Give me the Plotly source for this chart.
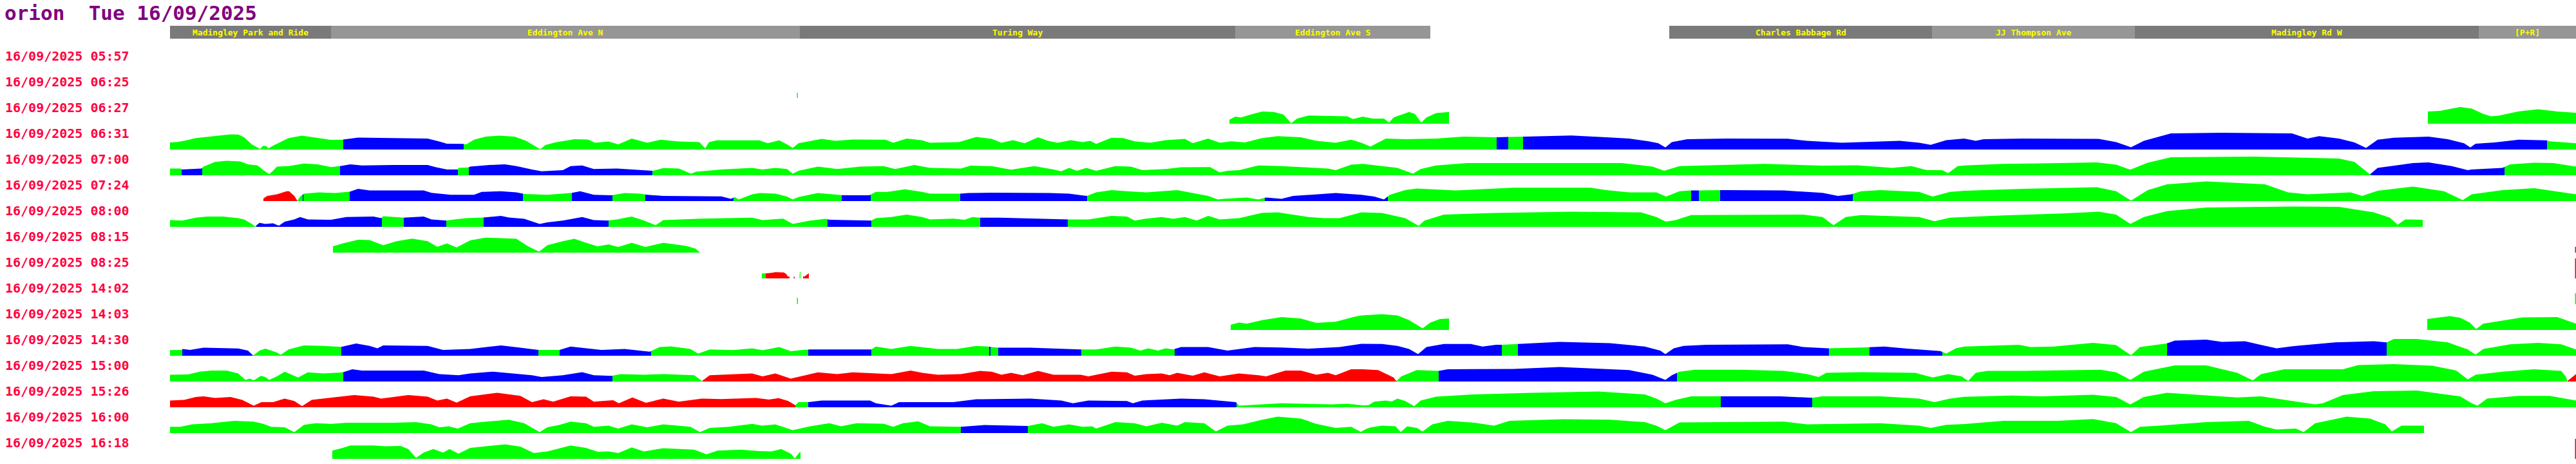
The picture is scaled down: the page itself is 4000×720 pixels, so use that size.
import numpy as np
import plotly.graph_objects as go

# ---------------- data ----------------
TITLE = "orion  Tue 16/09/2025"
DATE = "16/09/2025"
TIMES = ["05:57", "06:25", "06:27", "06:31", "07:00", "07:24", "08:00", "08:15",
         "08:25", "14:02", "14:03", "14:30", "15:00", "15:26", "16:00", "16:18"]

ROUTE_END = 3736  # distance along route (same units as profiles)
SECTION_NAMES = ["Madingley Park and Ride", "Eddington Ave N", "Turing Way", "Eddington Ave S",
                 "Charles Babbage Rd", "JJ Thompson Ave", "Madingley Rd W", "[P+R]"]
SECTION_START = [0, 250, 978, 1654, 2328, 2736, 3051, 3585]
SECTION_END = [250, 978, 1654, 1957, 2736, 3051, 3585, 3736]

# speed profiles: (distance, speed) per journey
P_0625 = [(973, 8), (975, 8)]
S_0625 = [(973.5, 975, 'g')]

P_0627 = [(1645, 6.2), (1654, 11), (1663, 9.8), (1678, 14.2), (1696, 18.9), (1714, 18.2), (1729, 14.2),
          (1741, 0.7), (1750, 8), (1768, 12.7), (1798, 12.4), (1828, 11.6), (1837, 7.3), (1852, 11),
          (1867, 8), (1885, 8), (1893, 1.8), (1900, 9.8), (1924, 18.2), (1933, 15.3), (1943, 1.8),
          (1951, 9.8), (1966, 16.4), (1986, 18.2),
          (3506, 18.9), (3525, 20), (3556, 26), (3574, 23.6), (3592, 15.3), (3604, 11.6), (3616, 12.4),
          (3646, 18.9), (3677, 22.5), (3707, 18.9), (3736, 17)]
S_0627 = [(1645, 1986, 'g'), (3506, 3736, 'g')]

P_0631 = [(0, 10.9), (10, 11.6), (22, 13.5), (40, 17.8), (64, 20.7), (94, 23.6), (106, 23.3), (115, 19),
          (127, 8), (136, 2.5), (140, 0.7), (144, 5.5), (149, 5.5), (153, 1.8), (160, 6), (184, 17.8),
          (205, 21.5), (226, 18.5), (250, 15), (268, 15.3), (292, 18.5), (346, 17.8), (400, 17),
          (418, 12.4), (430, 9), (455, 8.7), (460, 8), (472, 15.3), (490, 20), (511, 21.5), (535, 20),
          (553, 13.5), (565, 6.2), (575, 0.4), (583, 7), (598, 11), (628, 16), (649, 15.6), (660, 10.5),
          (681, 12.4), (696, 8), (717, 17), (741, 10.5), (762, 15.3), (789, 12.4), (822, 11.6),
          (831, 1.8), (837, 11.6), (849, 14.2), (885, 14.5), (915, 14.2), (928, 9.8), (946, 14.2),
          (958, 8), (967, 2.5), (976, 9.8), (1012, 16.4), (1033, 13.5), (1060, 15.6), (1111, 15.3),
          (1123, 10.5), (1144, 17), (1168, 14.2), (1180, 10.5), (1225, 11.6), (1252, 19.6), (1276, 16.4),
          (1291, 10.5), (1309, 14.5), (1327, 9.8), (1348, 19), (1363, 13.5), (1378, 10.5), (1399, 14.5),
          (1417, 11.6), (1429, 13.5), (1438, 8.7), (1462, 18.2), (1480, 17.8), (1498, 12.7),
          (1522, 10.5), (1546, 14.5), (1576, 16.4), (1588, 9.8), (1612, 17), (1630, 10.5), (1648, 12.7),
          (1669, 11), (1696, 17.8), (1720, 20.7), (1756, 19), (1780, 13.5), (1810, 10.5), (1834, 15.3),
          (1850, 10.5), (1864, 4.4), (1888, 17), (1918, 16), (1966, 17), (2008, 20), (2059, 19),
          (2080, 19.6), (2104, 20), (2176, 21.8), (2230, 19), (2266, 17), (2296, 12.7), (2311, 9.8),
          (2322, 3.3), (2332, 11.6), (2356, 16), (2416, 17), (2512, 16.7), (2542, 13.5), (2596, 10.5),
          (2656, 12.7), (2686, 13.5), (2716, 10.5), (2734, 7.3), (2758, 14.5), (2786, 17), (2804, 13.5),
          (2816, 16), (2877, 17), (2995, 16.4), (3022, 11.6), (3045, 3.6), (3065, 13.5), (3107, 25),
          (3186, 26), (3295, 25), (3319, 17), (3337, 20.7), (3368, 17), (3392, 11), (3410, 2.5),
          (3428, 15.3), (3453, 18.2), (3507, 20), (3537, 16), (3562, 9.8), (3572, 3.3), (3580, 9),
          (3610, 11), (3647, 15.3), (3690, 14.2), (3695, 12.7), (3736, 9.8)]
S_0631 = [(0, 269, 'g'), (269, 456, 'b'), (456, 2060, 'g'), (2060, 2078, 'b'), (2078, 2101, 'g'),
          (2101, 3691, 'b'), (3691, 3736, 'g')]

P_0700 = [(0, 10.5), (16, 10.5), (19, 9), (49, 10.5), (52, 13.5), (70, 20.7), (88, 22.5), (109, 21.5),
          (121, 17), (136, 15.3), (145, 8), (154, 1.8), (160, 7), (166, 13.5), (184, 14.2), (208, 18.2),
          (229, 17), (250, 12.7), (263, 14.2), (280, 17), (298, 15.3), (346, 16), (400, 16), (412, 12.7),
          (430, 9), (447, 9), (448, 11.6), (463, 11.6), (466, 13.5), (496, 16), (520, 17), (538, 14.2),
          (562, 9), (577, 6.2), (610, 8), (622, 14.2), (640, 15.3), (658, 9.8), (694, 10.5), (742, 7),
          (750, 7), (766, 11.3), (790, 10.5), (809, 2.5), (817, 5.5), (838, 7), (856, 9), (904, 11.6),
          (920, 9), (940, 11.6), (958, 9.8), (967, 2.5), (976, 7), (1006, 13.5), (1036, 9.8),
          (1072, 13.5), (1108, 14.2), (1126, 9.8), (1156, 16), (1180, 11.6), (1228, 10.5), (1243, 15),
          (1276, 14.2), (1306, 8.7), (1342, 14.2), (1372, 9), (1384, 6.2), (1396, 11.6), (1408, 7),
          (1423, 11.6), (1438, 7), (1468, 14.2), (1492, 13.5), (1510, 8), (1546, 9.8), (1570, 12.4),
          (1615, 12.7), (1630, 4.4), (1642, 7), (1660, 8), (1690, 15.3), (1726, 14.2), (1774, 11.6),
          (1798, 10.5), (1810, 8), (1834, 16.4), (1852, 17.8), (1876, 15.3), (1906, 11.6), (1930, 2.5),
          (1942, 9.8), (1966, 15.3), (2014, 18.9), (2128, 18.9), (2254, 18.9), (2302, 13.5), (2320, 7),
          (2344, 14.2), (2386, 15.3), (2476, 17.8), (2566, 15), (2620, 15.6), (2674, 11.6), (2704, 14.2),
          (2728, 8), (2752, 8), (2761, 3.3), (2776, 14.2), (2786, 15.3), (2847, 17.8), (2907, 18.5),
          (2992, 20), (3022, 16.4), (3044, 8.7), (3071, 19.6), (3107, 28), (3234, 29), (3368, 26),
          (3392, 20.7), (3416, 1.5), (3428, 11.6), (3483, 18.9), (3507, 20), (3543, 14.2), (3568, 8),
          (3574, 9), (3622, 11.6), (3634, 17), (3671, 19.6), (3701, 18.9), (3736, 13.5)]
S_0700 = [(0, 18, 'g'), (18, 50, 'b'), (50, 264, 'g'), (264, 447, 'b'), (447, 464, 'g'), (464, 749, 'b'),
          (749, 3417, 'g'), (3417, 3625, 'b'), (3625, 3736, 'g')]

P_0724 = [(145, 4), (151, 8), (166, 10.5), (181, 15.3), (185, 15.3), (193, 8), (198, 0.7), (202, 7),
          (208, 11.6), (232, 13.5), (256, 12.4), (279, 14.5), (292, 19), (310, 16.4), (334, 16.4),
          (394, 16.4), (406, 12.7), (436, 9.8), (472, 9.8), (484, 14.2), (514, 15.3), (538, 13.5),
          (550, 11), (586, 9.8), (622, 12.4), (637, 15.3), (658, 9.8), (685, 9), (706, 12.4), (730, 11.6),
          (741, 9.8), (766, 8), (856, 7.3), (871, 3.6), (877, 6.2), (883, 2.5), (904, 10.5), (916, 12.4),
          (940, 11.6), (958, 7), (967, 2.5), (976, 6.2), (1006, 12.4), (1036, 9.8), (1048, 9), (1086, 9),
          (1096, 14.2), (1114, 14.2), (1141, 18.2), (1168, 14.2), (1180, 11.6), (1227, 11.6),
          (1240, 12.4), (1276, 13), (1366, 12.4), (1396, 11.6), (1423, 8), (1438, 13.5), (1462, 17),
          (1486, 15.3), (1516, 13.5), (1564, 17), (1588, 12.7), (1612, 8), (1627, 2.5), (1636, 3.6),
          (1672, 5.5), (1690, 2.5), (1702, 5.5), (1726, 3.6), (1744, 8), (1810, 12.4), (1850, 9.8),
          (1870, 7), (1885, 2.5), (1894, 9.8), (1918, 17), (1936, 19.6), (1996, 16.4), (2086, 20.7),
          (2206, 20.7), (2230, 17), (2266, 13.5), (2308, 13.5), (2323, 7), (2344, 15.3), (2362, 16.4),
          (2416, 17), (2506, 16.4), (2566, 12.7), (2590, 8), (2611, 10.5), (2626, 15.3), (2656, 17),
          (2716, 14.2), (2737, 7), (2764, 14.2), (2786, 16), (2877, 19), (2992, 21.5), (3022, 15.3),
          (3045, 0.7), (3071, 17), (3101, 26), (3162, 30.5), (3253, 26), (3289, 13.5), (3319, 10.5),
          (3386, 13.5), (3404, 8), (3428, 16), (3483, 22.5), (3531, 15.3), (3560, 1.5), (3574, 10.5),
          (3622, 17), (3671, 20), (3736, 10.5)]
S_0724 = [(145, 198, 'r'), (198, 206, 'g'), (206, 207.5, 'b'), (207.5, 279, 'g'), (279, 548, 'b'),
          (548, 624, 'g'), (624, 687, 'b'), (687, 738, 'g'), (738, 875, 'b'), (875, 1043, 'g'),
          (1043, 1088, 'b'), (1088, 1227, 'g'), (1227, 1424, 'b'), (1424, 1700, 'g'), (1700, 1891, 'b'),
          (1891, 2362, 'g'), (2362, 2374, 'b'), (2374, 2407, 'g'), (2407, 2613, 'b'), (2613, 3736, 'g')]

P_0800 = [(0, 10.5), (19, 9.8), (40, 14.2), (58, 16), (82, 16), (106, 13.5), (115, 11.6), (127, 4.4),
          (132, 0.7), (139, 6.2), (148, 4.4), (160, 5.5), (169, 1.8), (178, 8), (193, 11.6), (202, 15.3),
          (214, 11.6), (250, 11), (274, 15.3), (316, 16), (328, 13.5), (331, 16.4), (363, 14.2), (394, 16),
          (406, 11.6), (429, 9.8), (442, 11.6), (460, 13.5), (487, 14.5), (514, 17), (526, 14.5),
          (550, 12.4), (574, 4.4), (586, 7), (610, 9.8), (640, 15.3), (658, 10.5), (680, 9.8), (694, 11.6),
          (717, 16), (736, 9.8), (754, 2.5), (766, 10.5), (826, 12.7), (904, 14.2), (920, 10.5),
          (934, 11.6), (952, 12.7), (967, 4.4), (994, 9.8), (1018, 12.4), (1024, 11), (1089, 9.8),
          (1096, 13.5), (1120, 15.3), (1144, 19), (1168, 15.3), (1180, 11.6), (1216, 12.7), (1234, 11),
          (1246, 15.3), (1257, 14.2), (1288, 14.2), (1336, 12.7), (1393, 11.6), (1426, 11.6), (1462, 17),
          (1486, 16), (1498, 9.8), (1516, 12.7), (1540, 15.3), (1558, 12.4), (1576, 15.3), (1594, 9.8),
          (1612, 17), (1630, 11.6), (1660, 13.5), (1696, 21.8), (1720, 22.5), (1768, 15.3), (1792, 13.5),
          (1816, 13.5), (1850, 22.5), (1882, 21.5), (1918, 13.5), (1939, 1.5), (1948, 9.8), (1978, 19),
          (2056, 21.5), (2176, 23.6), (2284, 22.5), (2308, 15.3), (2323, 8), (2338, 10.5), (2362, 18.2),
          (2536, 19), (2566, 15.3), (2583, 2.5), (2602, 15.3), (2626, 18.2), (2716, 15.3), (2740, 8.7),
          (2764, 14.2), (2786, 15.3), (2847, 17.8), (2938, 20.7), (2995, 23.6), (3022, 19), (3044, 4.4),
          (3065, 15.3), (3101, 24.4), (3162, 30), (3301, 31.6), (3368, 30.9), (3422, 22.5), (3447, 14.2),
          (3459, 3.3), (3471, 11.6), (3498, 11)]
S_0800 = [(0, 134, 'g'), (134, 329, 'b'), (329, 363, 'g'), (363, 429, 'b'), (429, 487, 'g'),
          (487, 681, 'b'), (681, 1021, 'g'), (1021, 1089, 'b'), (1089, 1258, 'g'), (1258, 1394, 'b'),
          (1394, 3498, 'g')]

P_0815 = [(253, 9.8), (268, 14.2), (292, 20), (310, 19.6), (331, 11.6), (352, 17.8), (376, 21.8),
          (400, 17.8), (415, 9), (430, 14.2), (445, 8), (466, 18.9), (490, 23.3), (538, 21.5), (556, 9.8),
          (573, 1.5), (586, 11.6), (610, 17.8), (628, 21.5), (646, 15.3), (664, 9.8), (681, 12.7),
          (696, 8.7), (717, 15.3), (738, 8.7), (766, 15.3), (801, 10.5), (816, 6.2), (823, 0),
          (3734, 9), (3736, 9)]
S_0815 = [(253, 823, 'g'), (3734.5, 3736, 'r')]

P_0825 = [(919, 7.7), (925, 7.7), (935, 8.7), (940, 9.7), (953, 9.3), (957, 6.7), (959, 3.3), (962, 2.7),
          (969, 2.7), (970, 2.7), (978, 10), (979, 10), (983, 3.3), (985, 2.7), (988, 5), (990, 6.7),
          (992, 8), (3734, 31), (3736, 31)]
S_0825 = [(919, 925, 'g'), (925, 962, 'r'), (968.5, 970, 'r'), (977.5, 979, 'g'), (983, 992, 'r'),
          (3734.5, 3736, 'r')]

P_1402 = [(973, 10), (975, 10), (3734, 17), (3736, 17)]
S_1402 = [(973.5, 975, 'g'), (3734.5, 3736, 'g')]

P_1403 = [(1647, 8), (1660, 11.6), (1672, 9.8), (1696, 15.3), (1726, 20), (1756, 17.8), (1780, 10.9),
          (1810, 12.7), (1840, 20.7), (1850, 22.5), (1882, 24.4), (1906, 22.5), (1924, 15.3), (1945, 2.5),
          (1957, 11.6), (1972, 17), (1986, 17.8),
          (3505, 17), (3540, 21.5), (3556, 18.9), (3571, 11.6), (3581, 1.5), (3592, 9.8), (3616, 13.5),
          (3653, 19.6), (3707, 20), (3736, 9.8)]
S_1403 = [(1647, 1986, 'g'), (3505, 3736, 'g')]

P_1430 = [(0, 8.7), (18, 9), (20, 10.5), (31, 9), (52, 12.4), (106, 11.3), (121, 8), (129, 0.3), (139, 8),
          (148, 11), (166, 5), (172, 1.5), (184, 9.8), (208, 16), (238, 15.3), (265, 13.5), (289, 19),
          (310, 15.3), (322, 11.6), (331, 16), (400, 15.3), (424, 9), (466, 10.5), (514, 16), (544, 12.4),
          (571, 9), (580, 9), (605, 9), (622, 14.2), (646, 11.6), (670, 9), (706, 10.5), (745, 6.2),
          (760, 13.5), (778, 14.5), (808, 10.5), (820, 3.3), (838, 9.8), (874, 8.7), (904, 11.6),
          (920, 8.5), (946, 13.5), (964, 7), (982, 9), (994, 9.8), (1089, 9.8), (1096, 14.2), (1120, 10.5),
          (1150, 15.3), (1174, 12.4), (1192, 10.5), (1222, 10.5), (1252, 15.3), (1270, 14.2), (1288, 12.4),
          (1336, 12.4), (1414, 9.8), (1438, 9.8), (1468, 14.2), (1492, 12.4), (1507, 8), (1519, 11.6),
          (1534, 8), (1546, 11.6), (1558, 9.8), (1570, 13.5), (1612, 13.5), (1642, 8), (1684, 13.5),
          (1726, 12.7), (1768, 11), (1816, 13.5), (1850, 18.5), (1882, 18.2), (1906, 15.3), (1924, 10.5),
          (1938, 2.5), (1951, 13.5), (1978, 18.2), (2020, 18.2), (2038, 14.2), (2059, 17), (2067, 17),
          (2093, 18.2), (2158, 21.5), (2236, 19.6), (2290, 14.2), (2314, 8), (2322, 2.5), (2335, 11.6),
          (2350, 15.3), (2386, 17), (2512, 17.8), (2536, 13.5), (2575, 11.6), (2626, 12.7), (2662, 14.2),
          (2698, 11), (2749, 7.3), (2758, 3.3), (2773, 11.6), (2786, 14.2), (2871, 17), (2889, 13.5),
          (2925, 14.2), (2986, 20), (3022, 16.4), (3045, 0.7), (3059, 13.5), (3100, 18.9), (3113, 23.6),
          (3162, 25), (3186, 21.5), (3222, 22.5), (3246, 17), (3271, 11.6), (3301, 15.3), (3362, 20.7),
          (3422, 22.5), (3442, 20.7), (3453, 26), (3489, 26), (3537, 20.7), (3568, 9.8), (3580, 1.8),
          (3592, 10.5), (3634, 17.8), (3677, 20), (3713, 17.8), (3736, 9.8)]
S_1430 = [(0, 19, 'g'), (19, 130, 'b'), (130, 266, 'g'), (266, 572, 'b'), (572, 605, 'g'), (605, 747, 'b'),
          (747, 991, 'g'), (991, 1089, 'b'), (1089, 1272, 'g'), (1272, 1274, 'b'), (1274, 1286, 'g'),
          (1286, 1415, 'b'), (1415, 1560, 'g'), (1560, 2068, 'b'), (2068, 2093, 'g'), (2093, 2576, 'b'),
          (2576, 2639, 'g'), (2639, 2752, 'b'), (2752, 3101, 'g'), (3101, 3442, 'b'), (3442, 3736, 'g')]

P_1500 = [(0, 10.5), (28, 11), (46, 15.3), (64, 17), (88, 17), (106, 12.4), (117, 2.5), (124, 4.4),
          (130, 1.8), (141, 8.7), (148, 7), (154, 2.5), (166, 8), (178, 15.3), (190, 10.5), (199, 6.2),
          (214, 14.2), (238, 12.4), (268, 14.2), (283, 18.9), (298, 17), (394, 17), (418, 11.6), (448, 9.8),
          (466, 12.4), (502, 15.3), (538, 12.4), (562, 9.8), (577, 7), (610, 9.8), (640, 14.5), (658, 9.8),
          (686, 8.7), (700, 11.6), (736, 10.5), (766, 11.6), (814, 9.8), (826, 0.7), (838, 9.8),
          (862, 10.5), (904, 12.4), (920, 8), (940, 12.4), (964, 4.4), (1006, 14.2), (1036, 11.6),
          (1060, 14.2), (1120, 11.6), (1150, 17), (1168, 13.5), (1192, 10.5), (1228, 11.6), (1258, 16.4),
          (1276, 15.3), (1291, 10.5), (1306, 13.5), (1324, 9.8), (1348, 16.4), (1372, 10.5), (1414, 10.5),
          (1426, 8), (1462, 15.3), (1486, 14.2), (1498, 9), (1516, 11.6), (1540, 12.4), (1552, 9.8),
          (1564, 13.5), (1588, 9), (1606, 14.2), (1630, 8), (1660, 12.4), (1690, 9.8), (1702, 8),
          (1732, 17), (1756, 17), (1780, 10.5), (1798, 13.5), (1810, 9.8), (1834, 18.9), (1852, 18.9),
          (1876, 17.8), (1900, 6.2), (1904, 0.7), (1912, 8), (1936, 17.8), (1969, 16.4), (1984, 18.9),
          (2086, 19.6), (2158, 22.5), (2266, 17.8), (2302, 10.5), (2322, 2.5), (2332, 9.8), (2344, 15.3),
          (2368, 18.2), (2440, 18.2), (2506, 16.4), (2542, 11.6), (2560, 7), (2572, 13.5), (2626, 14.5),
          (2710, 13.5), (2737, 6.2), (2761, 11.6), (2782, 8), (2792, 0.7), (2804, 13.5), (2822, 16.4),
          (2877, 16.4), (2998, 18.2), (3022, 14.2), (3044, 2.5), (3065, 15.3), (3113, 25), (3162, 25),
          (3210, 13.5), (3234, 1.8), (3247, 11.6), (3283, 18.9), (3374, 18.9), (3398, 25.5), (3453, 27),
          (3513, 24.4), (3550, 17), (3568, 3.3), (3580, 10.5), (3622, 15.3), (3671, 18.9), (3713, 16.4),
          (3720, 8), (3723, 1), (3736, 11.6)]
S_1500 = [(0, 269, 'g'), (269, 687, 'b'), (687, 827, 'g'), (827, 1905, 'r'), (1905, 1970, 'g'),
          (1970, 2340, 'b'), (2340, 3723, 'g'), (3723, 3736, 'r')]

P_1526 = [(0, 10.5), (22, 11.6), (40, 16), (52, 17), (70, 14.5), (94, 16), (112, 11.6), (130, 2.5),
          (142, 8), (160, 8), (178, 13.5), (193, 9.8), (205, 1.8), (220, 11.6), (244, 14.2), (286, 18.9),
          (316, 16.4), (328, 13.5), (370, 18.9), (400, 16.4), (415, 10.5), (430, 13.5), (445, 7.3),
          (466, 17), (508, 22.5), (544, 17.8), (562, 8), (580, 12.4), (595, 8.7), (622, 17), (646, 16.4),
          (658, 8.7), (688, 11), (697, 6.2), (718, 15.3), (739, 7), (766, 13.5), (790, 8.7), (826, 13.5),
          (856, 12.7), (910, 14.5), (930, 12), (945, 14.2), (960, 9.8), (971, 3.3), (976, 8), (991, 8),
          (1012, 10.5), (1087, 10.5), (1096, 6.2), (1120, 2.5), (1132, 8), (1216, 8), (1252, 12.4),
          (1336, 13.5), (1384, 10.5), (1402, 6.2), (1426, 10.5), (1486, 9.8), (1495, 6.2), (1510, 10.5),
          (1570, 13.5), (1606, 12.4), (1655, 8), (1660, 2.5), (1696, 4.4), (1726, 6.2), (1804, 4.4),
          (1828, 5.5), (1852, 3), (1861, 3.3), (1870, 8.7), (1888, 10.5), (1897, 9), (1906, 13.5),
          (1918, 9.8), (1932, 1.8), (1942, 10.5), (1966, 16.4), (2026, 20), (2116, 22.5), (2218, 24.4),
          (2290, 20), (2308, 13.5), (2322, 6.2), (2338, 11.6), (2362, 17), (2407, 17), (2500, 17),
          (2548, 14.5), (2566, 17), (2656, 17), (2716, 13.5), (2740, 8), (2764, 13.5), (2786, 16.2),
          (2859, 18.2), (2907, 17), (2986, 19.6), (3022, 16), (3044, 4.4), (3065, 16), (3101, 22.5),
          (3150, 19), (3210, 15.3), (3247, 17), (3283, 11.6), (3331, 4.4), (3343, 6.2), (3374, 19),
          (3422, 25), (3489, 26), (3556, 17), (3574, 6.2), (3583, 2.5), (3598, 13.5), (3647, 17.8),
          (3695, 17.8), (3736, 10.5)]
S_1526 = [(0, 971, 'r'), (971, 991, 'g'), (991, 1656, 'b'), (1656, 2408, 'g'), (2408, 2550, 'b'),
          (2550, 3736, 'g')]

P_1600 = [(0, 9.8), (16, 9.8), (34, 13.5), (64, 15.3), (100, 19), (130, 17.8), (145, 14.2), (157, 9.8),
          (178, 9), (193, 1.5), (208, 12.7), (226, 15.3), (250, 14.2), (274, 16), (346, 16), (382, 17),
          (406, 13.5), (418, 9), (433, 10.5), (447, 7), (466, 15.3), (496, 18.2), (526, 20.7), (550, 15.3),
          (562, 8), (574, 1.5), (586, 9), (604, 12.4), (622, 17.8), (646, 15.3), (658, 9.8), (681, 11.6),
          (696, 7), (717, 13.5), (741, 9), (766, 13.5), (808, 9.8), (823, 1.5), (838, 8), (868, 9.8),
          (904, 14.2), (920, 11.6), (940, 13.5), (967, 4.4), (994, 10.5), (1024, 15.3), (1042, 10.5),
          (1066, 15.3), (1108, 14.5), (1123, 9.8), (1138, 15.3), (1162, 18.2), (1180, 10.5), (1227, 9.8),
          (1264, 12.4), (1330, 10.5), (1354, 15.3), (1372, 9.8), (1396, 13.5), (1417, 9.8), (1432, 10.5),
          (1438, 7), (1468, 17), (1498, 15.3), (1516, 10.5), (1540, 16), (1564, 11.6), (1576, 17),
          (1606, 15.3), (1624, 2.5), (1642, 11.6), (1666, 13.5), (1696, 20.7), (1720, 25.5), (1756, 22.5),
          (1780, 14.2), (1810, 8), (1834, 9.8), (1849, 1.8), (1857, 6.2), (1864, 8.7), (1882, 11.6),
          (1903, 10.5), (1911, 1.5), (1921, 10.5), (1936, 8), (1945, 2.5), (1960, 13.5), (1984, 18.9),
          (2026, 16), (2056, 11.6), (2080, 18.9), (2164, 21.5), (2236, 20.7), (2290, 17), (2308, 11.6),
          (2322, 4.4), (2344, 16.4), (2506, 17.8), (2542, 13.5), (2656, 15.3), (2716, 11.6), (2734, 8),
          (2758, 12.7), (2786, 14), (2847, 18.9), (2931, 18.9), (2986, 21.8), (3022, 15.3), (3045, 1.5),
          (3059, 9.8), (3089, 11.6), (3162, 17), (3228, 18.9), (3253, 9.8), (3271, 5.5), (3301, 7),
          (3313, 1.5), (3331, 15.3), (3380, 25.5), (3416, 22.5), (3440, 13.5), (3450, 2.5), (3465, 11.6),
          (3500, 11.6)]
S_1600 = [(0, 1228, 'g'), (1228, 1332, 'b'), (1332, 3500, 'g')]

P_1618 = [(252, 12.7), (268, 17), (280, 20.7), (316, 20.7), (334, 19.6), (358, 20), (370, 15.3),
          (382, 1.5), (394, 9.8), (409, 15.3), (424, 9.8), (434, 15.3), (448, 8), (466, 17), (496, 20),
          (520, 22.5), (544, 18.9), (565, 9), (586, 11.6), (622, 20.7), (646, 17), (664, 11), (681, 11.6),
          (696, 9), (717, 17.8), (736, 11.6), (766, 16.4), (814, 14.2), (833, 7), (850, 12.7), (886, 14.2),
          (916, 12), (934, 11.6), (949, 15.3), (964, 8), (970, 0.7), (978, 10.5), (979, 10.5),
          (3734, 31), (3736, 31)]
S_1618 = [(252, 979, 'g'), (3734.5, 3736, 'r')]

JOURNEYS = {1: (P_0625, S_0625), 2: (P_0627, S_0627), 3: (P_0631, S_0631), 4: (P_0700, S_0700),
            5: (P_0724, S_0724), 6: (P_0800, S_0800), 7: (P_0815, S_0815), 8: (P_0825, S_0825),
            9: (P_1402, S_1402), 10: (P_1403, S_1403), 11: (P_1430, S_1430), 12: (P_1500, S_1500),
            13: (P_1526, S_1526), 14: (P_1600, S_1600), 15: (P_1618, S_1618)}

# ---------------- styles ----------------
COLOURS = {'g': '#00ff00', 'b': '#0000ff', 'r': '#ff0000'}
SHADES = ['#7a7a7a', '#969696']
ROW_PX = 40.0          # pixels per row
FONT = "DejaVu Sans Mono"

fig = go.Figure()

polys = {k: ([], []) for k in COLOURS}
for row, (prof, segs) in JOURNEYS.items():
    d = np.array([p[0] for p in prof], dtype=float)
    h = np.array([p[1] for p in prof], dtype=float)
    for s, e, c in segs:
        inner = d[(d > s) & (d < e)]
        xs = np.concatenate([[s], inner, [e]])
        hs = np.interp(xs, d, h)
        px = [s] + list(xs) + [e, s]
        py = [row] + list(row - hs / ROW_PX) + [row, row]
        polys[c][0].extend(px + [None])
        polys[c][1].extend(py + [None])

for c, (px, py) in polys.items():
    fig.add_trace(go.Scatter(x=px, y=py, mode='lines', fill='toself', fillcolor=COLOURS[c],
                             line=dict(width=0, color=COLOURS[c]), hoverinfo='skip'))

HEADER_TOP, HEADER_BOT = -1.8, -1.3
for k, (name, s, e) in enumerate(zip(SECTION_NAMES, SECTION_START, SECTION_END)):
    fig.add_shape(type='rect', xref='x', yref='y', x0=s, x1=e, y0=HEADER_TOP, y1=HEADER_BOT,
                  fillcolor=SHADES[k % 2], line=dict(width=0), layer='below')
    fig.add_annotation(x=(s + e) / 2, y=(HEADER_TOP + HEADER_BOT) / 2, xref='x', yref='y',
                       text=name, showarrow=False, xanchor='center', yanchor='middle',
                       font=dict(family=FONT, size=13, color='#ffff00', weight='bold'))

for i, t in enumerate(TIMES):
    fig.add_annotation(x=0.0015, y=i - 0.625, xref='paper', yref='y', text=f"{DATE} {t}",
                       showarrow=False, xanchor='left', yanchor='middle',
                       font=dict(family=FONT, size=20, color='#ff0040', weight='bold'))

fig.add_annotation(x=0.0012, y=-2.8, xref='paper', yref='y', text=TITLE, showarrow=False,
                   xanchor='left', yanchor='top',
                   font=dict(family=FONT, size=31, color='#800080', weight='bold'))

fig.update_layout(width=4000, height=720, margin=dict(l=0, r=0, t=0, b=0),
                  paper_bgcolor='white', plot_bgcolor='white', showlegend=False,
                  xaxis=dict(range=[-264, ROUTE_END], visible=False, fixedrange=True),
                  yaxis=dict(range=[15.2, -2.8], visible=False, fixedrange=True))

fig.write_html("out.html", config={'displayModeBar': False},
               post_script="document.body.style.margin='0px';document.body.style.overflow='hidden';")
